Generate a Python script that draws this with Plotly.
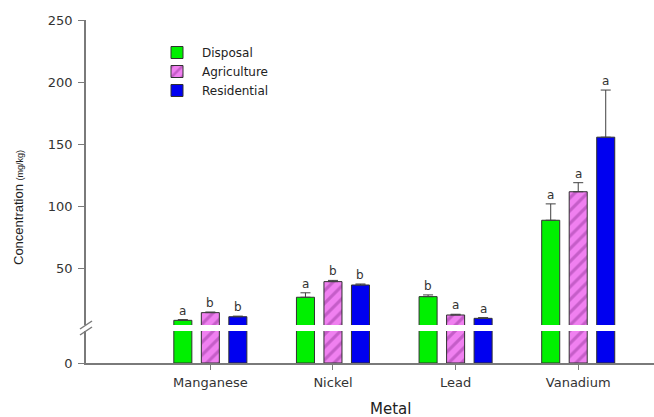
import plotly.graph_objects as go

# ---- data ----
metals = ["Manganese", "Nickel", "Lead", "Vanadium"]
series_names = ["Disposal", "Agriculture", "Residential"]
disposal = [7.8, 26.4, 26.9, 88.5]
agriculture = [14.0, 39.0, 12.1, 111.5]
residential = [10.7, 36.3, 9.4, 155.5]
disposal_err = [0.6, 3.6, 1.4, 13.2]
agriculture_err = [0.5, 1.0, 0.6, 7.3]
residential_err = [0.5, 0.8, 0.6, 38.0]
disposal_letters = ["a", "a", "b", "a"]
agriculture_letters = ["b", "b", "a", "a"]
residential_letters = ["b", "b", "a", "a"]
upper_ticks = [50, 100, 150, 200, 250]

# ---- layout geometry ----
W, H = 654, 417
ML, MR, MT, MB = 86, 0, 20, 54
PW, PH = W - ML - MR, H - MT - MB
xr = [-1.014, 3.618]
px_per_unit = PW / (xr[1] - xr[0])
bar_w = 0.147
step = 0.2243
offsets = [-step - bar_w / 2, -bar_w / 2, step - bar_w / 2]
centers_shift = [-step, 0, step]

low_top = (363 - 331) / PH
up_bot = (363 - 325) / PH
up_range = [4.03, 250]
low_range = [0, 4.0]

colors = ["#00f000", "#f080f0", "#0000f0"]
line_col = "#303030"
axis_col = "#7a7a7a"
font_fam = "Liberation Sans, Arial, sans-serif"
wide_fam = "DejaVu Sans, Arial, sans-serif"

values = [disposal, agriculture, residential]
errs = [disposal_err, agriculture_err, residential_err]
letters = [disposal_letters, agriculture_letters, residential_letters]

fig = go.Figure()
for i, name in enumerate(series_names):
    marker = dict(color=colors[i], line=dict(color=line_col, width=1))
    if i == 1:
        marker["pattern"] = dict(shape="/", fgcolor="#9a3aa0", bgcolor=colors[i], size=9, solidity=0.35)
    # upper segment
    fig.add_trace(go.Bar(
        x=metals, y=values[i], name=name, xaxis="x2", yaxis="y2",
        offset=offsets[i], width=bar_w, marker=marker,
        error_y=dict(type="data", array=errs[i], arrayminus=[0] * len(metals), symmetric=False,
                     color="#404040", thickness=1, width=5),
        showlegend=True, legendgroup=name,
    ))
    # lower segment
    fig.add_trace(go.Bar(
        x=metals, y=values[i], name=name, xaxis="x", yaxis="y",
        offset=offsets[i], width=bar_w, marker=marker,
        showlegend=False, legendgroup=name, hoverinfo="skip",
    ))

annotations = []
for i in range(3):
    for j, m in enumerate(metals):
        annotations.append(dict(
            x=m, y=values[i][j] + errs[i][j], xref="x2", yref="y2",
            text=letters[i][j], showarrow=False, yanchor="bottom",
            xshift=centers_shift[i] * px_per_unit, yshift=0,
            font=dict(family=wide_fam, size=12, color="#333333"),
        ))

annotations.append(dict(
    x=-(ML - 18) / PW, y=(363 - 208) / PH, xref="paper", yref="paper",
    text="Concentration <span style='font-size:9px'>(mg/kg)</span>",
    textangle=-90, showarrow=False, xanchor="center", yanchor="middle",
    font=dict(family=font_fam, size=13, color="#222222"),
))
annotations.append(dict(
    x=(390 - ML) / PW, y=-(409 - 363) / PH, xref="paper", yref="paper",
    text="Metal", showarrow=False, xanchor="center", yanchor="middle",
    font=dict(family=wide_fam, size=15, color="#222222"),
))

def px(xp):
    return (xp - ML) / PW

def py(yp):
    return (363 - yp) / PH

shapes = [
    dict(type="line", xref="paper", yref="paper", x0=px(80), y0=py(329), x1=px(92), y1=py(321),
         line=dict(color=axis_col, width=1.5)),
    dict(type="line", xref="paper", yref="paper", x0=px(80), y0=py(335), x1=px(92), y1=py(327),
         line=dict(color=axis_col, width=1.5)),
]

tickfont = dict(family=wide_fam, size=13, color="#333333")
fig.update_layout(
    width=W, height=H,
    margin=dict(l=ML, r=MR, t=MT, b=MB),
    paper_bgcolor="white", plot_bgcolor="white",
    barmode="overlay",
    showlegend=True,
    legend=dict(x=px(152), y=py(38), xanchor="left", yanchor="top",
                font=dict(family=wide_fam, size=12, color="#222222"),
                bgcolor="rgba(0,0,0,0)", itemwidth=40, tracegroupgap=0),
    xaxis=dict(domain=[0, 1], range=xr, anchor="y", showline=True, linecolor=axis_col, linewidth=1.5,
               ticks="outside", ticklen=5, tickcolor=axis_col, tickfont=tickfont, showgrid=False,
               zeroline=False, type="category", ticklabelstandoff=2),
    xaxis2=dict(domain=[0, 1], range=xr, anchor="y2", matches="x", showline=False, showticklabels=False,
                ticks="", showgrid=False, zeroline=False, type="category"),
    yaxis=dict(domain=[0, low_top], range=low_range, anchor="x", showline=True, linecolor=axis_col,
               linewidth=1.5, ticks="outside", ticklen=6, tickcolor=axis_col, tickvals=[0],
               tickfont=tickfont, showgrid=False, zeroline=False, ticklabelstandoff=3),
    yaxis2=dict(domain=[up_bot, 1], range=up_range, anchor="x2", showline=True, linecolor=axis_col,
                linewidth=1.5, ticks="outside", ticklen=6, tickcolor=axis_col, tickvals=upper_ticks,
                tickfont=tickfont, showgrid=False, zeroline=False, ticklabelstandoff=3),
    annotations=annotations,
    shapes=shapes,
)

fig.write_html("out.html")
